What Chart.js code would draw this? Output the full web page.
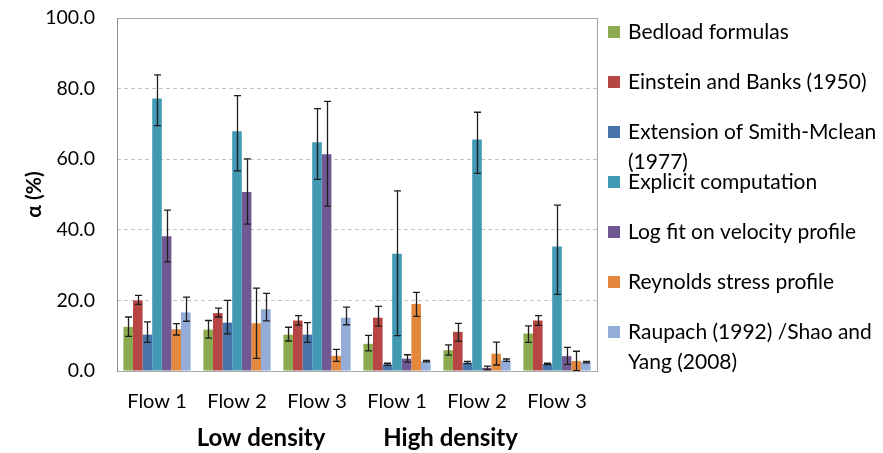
<!DOCTYPE html>
<html><head><meta charset="utf-8">
<script src="https://cdn.jsdelivr.net/npm/chart.js@4/dist/chart.umd.min.js"></script>
<style>html,body{margin:0;padding:0;background:#fff;}#wrap{width:883px;height:453px;}</style>
</head><body><div id="wrap"><canvas id="c" width="883" height="453"></canvas></div>
<script>
const categories = ['Flow 1', 'Flow 2', 'Flow 3', 'Flow 1', 'Flow 2', 'Flow 3'];
const groupLabels = ['Low density', 'High density'];
const groupLabelPositions = [1.3, 3.67];
const yTicks = [0, 20, 40, 60, 80, 100];
const yTitle = 'α (%)';

const seriesNames = [
  'Bedload formulas',
  'Einstein and Banks (1950)',
  ['Extension of Smith-Mclean', '(1977)'],
  'Explicit computation',
  'Log fit on velocity profile',
  'Reynolds stress profile',
  ['Raupach (1992) /Shao and', 'Yang (2008)']
];
const seriesColors = ['#8cab50', '#b64643', '#4773ab', '#4299b4', '#725893', '#e3883d', '#93add8'];

const bedload   = [12.5, 11.7, 10.3, 7.7, 5.9, 10.6];
const einstein  = [20.0, 16.4, 14.3, 15.1, 11.1, 14.3];
const smith     = [10.3, 13.7, 10.3, 1.9, 2.4, 2.0];
const explicit  = [77.2, 67.9, 64.8, 33.2, 65.6, 35.3];
const logfit    = [38.2, 50.7, 61.4, 3.5, 0.9, 4.2];
const reynolds  = [11.8, 13.5, 4.3, 19.0, 4.9, 2.8];
const raupach   = [16.6, 17.5, 15.1, 2.8, 3.0, 2.5];

// error bar ends [low, high]
const bedloadRange  = [[9.8,15.3],[9.3,14.3],[8.5,12.4],[5.7,10.1],[4.5,7.4],[8.1,12.8]];
const einsteinRange = [[18.9,21.4],[15.3,17.8],[13.0,15.7],[12.7,18.3],[8.4,13.5],[12.9,15.7]];
const smithRange    = [[8.1,13.9],[10.5,20.0],[8.1,13.7],[1.6,2.2],[2.1,2.7],[1.8,2.2]];
const explicitRange = [[69.5,83.9],[56.7,78.0],[54.3,74.3],[10.0,51.0],[56.0,73.3],[21.7,47.0]];
const logfitRange   = [[30.9,45.6],[41.6,60.1],[46.7,76.4],[2.5,4.6],[0.4,1.4],[1.9,6.7]];
const reynoldsRange = [[10.2,13.4],[3.6,23.5],[2.7,6.1],[15.5,22.3],[1.7,8.2],[0.1,5.6]];
const raupachRange  = [[14.1,20.9],[14.2,22.0],[13.1,18.1],[2.6,3.0],[2.7,3.4],[2.3,2.7]];

const seriesValues = [bedload, einstein, smith, explicit, logfit, reynolds, raupach];
const seriesRanges = [bedloadRange, einsteinRange, smithRange, explicitRange, logfitRange, reynoldsRange, raupachRange];

const FONT = 'Lato, "Open Sans", sans-serif';

const errorBars = {
  id: 'errorBars',
  afterDatasetsDraw(chart) {
    const ctx = chart.ctx, y = chart.scales.y;
    ctx.save();
    ctx.strokeStyle = '#1e1e1e';
    ctx.lineWidth = 1.3;
    chart.data.datasets.forEach((ds, di) => {
      const meta = chart.getDatasetMeta(di);
      meta.data.forEach((el, i) => {
        const r = ds.ranges[i];
        const x = Math.round(el.x) + 0.5;
        const y1 = y.getPixelForValue(r[0]), y2 = y.getPixelForValue(r[1]);
        ctx.beginPath();
        ctx.moveTo(x, y1); ctx.lineTo(x, y2);
        ctx.moveTo(x - 3.5, y1); ctx.lineTo(x + 3.5, y1);
        ctx.moveTo(x - 3.5, y2); ctx.lineTo(x + 3.5, y2);
        ctx.stroke();
      });
    });
    ctx.restore();
  }
};

const frame = {
  id: 'frame',
  afterDraw(chart) {
    const ctx = chart.ctx, a = chart.chartArea;
    ctx.save();
    ctx.strokeStyle = '#a6a6a6';
    ctx.lineWidth = 1;
    ctx.strokeRect(Math.round(a.left) + 0.5, Math.round(a.top) + 0.5, Math.round(a.right - a.left), Math.round(a.bottom - a.top));
    ctx.strokeStyle = '#8c8c8c';
    ctx.beginPath();
    ctx.moveTo(Math.round(a.left) + 0.5, a.top); ctx.lineTo(Math.round(a.left) + 0.5, a.bottom + 0.5);
    ctx.stroke();
    // group labels
    ctx.fillStyle = '#000';
    ctx.font = 'bold 24px ' + FONT;
    ctx.textAlign = 'center';
    ctx.textBaseline = 'middle';
    const xs = chart.scales.x;
    groupLabels.forEach((t, i) => {
      ctx.fillText(t, xs.getPixelForValue(groupLabelPositions[i]), a.bottom + 67);
    });
    // legend
    ctx.font = '21px ' + FONT;
    ctx.textAlign = 'left';
    chart.data.datasets.forEach((ds, i) => {
      const cy = a.top + 14 + 50 * i;
      ctx.fillStyle = ds.backgroundColor;
      ctx.fillRect(a.right + 11, cy - 6, 12, 12);
      ctx.fillStyle = '#000';
      const lines = Array.isArray(ds.label) ? ds.label : [ds.label];
      lines.forEach((ln, k) => ctx.fillText(ln, a.right + 31, cy + 30 * k));
    });
    ctx.restore();
  }
};

new Chart(document.getElementById('c'), {
  type: 'bar',
  data: {
    labels: categories,
    datasets: seriesValues.map((vals, i) => ({
      label: seriesNames[i],
      data: vals,
      ranges: seriesRanges[i],
      backgroundColor: seriesColors[i],
      borderWidth: 0,
      categoryPercentage: 0.84,
      barPercentage: 1.0
    }))
  },
  options: {
    responsive: false,
    animation: false,
    devicePixelRatio: 1,
    layout: { padding: { top: 18, right: 286, left: 0, bottom: 0 } },
    plugins: { legend: { display: false }, tooltip: { enabled: false } },
    scales: {
      x: {
        grid: { display: false, drawTicks: false },
        border: { display: false },
        ticks: { color: '#000', font: { family: FONT, size: 20 }, padding: 19 },
        afterFit(s) { s.height = 82; s.paddingLeft = 0; s.paddingRight = 0; }
      },
      y: {
        min: 0, max: 100,
        afterBuildTicks(s) { s.ticks = yTicks.map(v => ({ value: v })); },
        ticks: { color: '#000', font: { family: FONT, size: 19.5 }, padding: 22, callback: v => v.toFixed(1) },
        grid: { color: '#c4c4c4', drawTicks: false, lineWidth: 1 },
        border: { display: false, dash: [4, 3] },
        title: { display: true, text: yTitle, color: '#000', font: { family: FONT, size: 21, weight: 'bold' }, padding: { top: 22, bottom: 0 } },
        afterFit(s) { s.width = 117; s.paddingTop = 0; s.paddingBottom = 0; }
      }
    }
  },
  plugins: [errorBars, frame]
});
</script>
</body></html>
